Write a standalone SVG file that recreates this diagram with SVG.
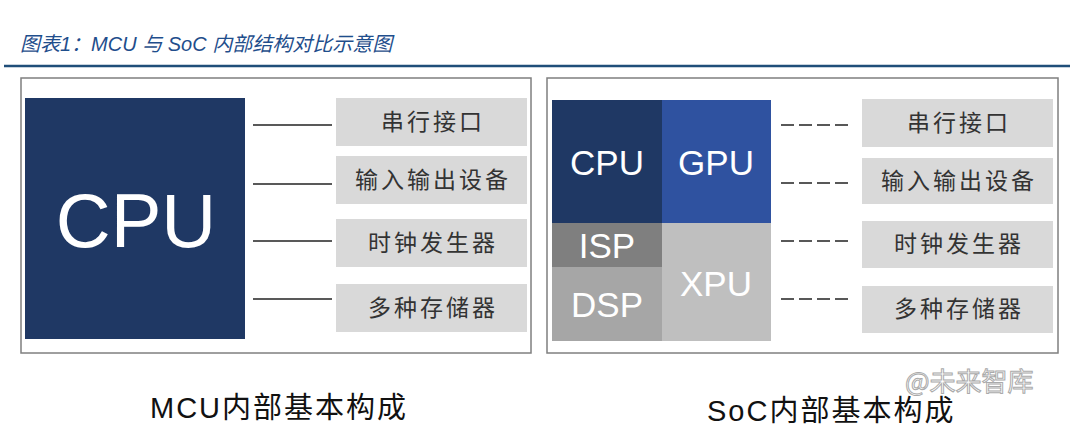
<svg xmlns="http://www.w3.org/2000/svg" width="1070" height="433" viewBox="0 0 1070 433">
<style>
.title{font-family:"Liberation Sans","Noto Sans CJK SC",sans-serif;font-style:italic;font-size:20px;fill:#1f4e8c}
.frame{fill:#fff;stroke:#7f7f7f;stroke-width:1.5}
.box{fill:#d9d9d9}
.boxt{font-family:"Noto Sans CJK SC",sans-serif;font-size:23px;fill:#333;text-anchor:middle;letter-spacing:3px}
.chip{font-family:"Liberation Sans","Noto Sans CJK SC",sans-serif;fill:#fff;text-anchor:middle}
.cap{font-family:"Liberation Sans","Noto Sans CJK SC",sans-serif;font-size:29px;fill:#111;letter-spacing:2px}
.solid{stroke:#222;stroke-width:1.5}
.dash{stroke:#222;stroke-width:1.5;stroke-dasharray:13 5}
</style>
<rect width="1070" height="433" fill="#fff"/>
<text class="title" x="20" y="51">图表1：MCU 与 SoC 内部结构对比示意图</text>
<line x1="4" y1="66" x2="1070" y2="66" stroke="#1f4e79" stroke-width="2.5"/>

<g id="mcu-panel">
<rect class="frame" x="21" y="78" width="510" height="275"/>
</g>
<g id="mcu-cpu">
<rect x="25" y="98" width="220" height="241" fill="#1f3864"/>
<text class="chip" x="136" y="247" font-size="76">CPU</text>
</g>
<g id="mcu-serial"><rect class="box" x="336" y="98" width="191" height="48"/><text class="boxt" x="433" y="130">串行接口</text></g>
<g id="mcu-io"><rect class="box" x="336" y="156" width="191" height="48"/><text class="boxt" x="433" y="188">输入输出设备</text></g>
<g id="mcu-clock"><rect class="box" x="336" y="219" width="191" height="48"/><text class="boxt" x="433" y="251">时钟发生器</text></g>
<g id="mcu-mem"><rect class="box" x="336" y="284" width="191" height="48"/><text class="boxt" x="433" y="316">多种存储器</text></g>

<g id="soc-panel">
<rect class="frame" x="547" y="78" width="511" height="275"/>
</g>
<g id="soc-cpu"><rect x="552" y="100" width="110" height="123" fill="#1f3864"/><text class="chip" x="607" y="175" font-size="35">CPU</text></g>
<g id="soc-gpu"><rect x="662" y="100" width="109" height="123" fill="#2f52a0"/><text class="chip" x="716" y="175" font-size="35">GPU</text></g>
<g id="soc-isp"><rect x="552" y="223" width="110" height="44" fill="#7f7f7f"/><text class="chip" x="607" y="258" font-size="35">ISP</text></g>
<g id="soc-dsp"><rect x="552" y="267" width="110" height="74" fill="#a6a6a6"/><text class="chip" x="607" y="317" font-size="35">DSP</text></g>
<g id="soc-xpu"><rect x="662" y="223" width="109" height="118" fill="#bfbfbf"/><text class="chip" x="716" y="296" font-size="35">XPU</text></g>
<g id="soc-serial"><rect class="box" x="862" y="99" width="191" height="48"/><text class="boxt" x="959" y="131">串行接口</text></g>
<g id="soc-io"><rect class="box" x="862" y="158" width="191" height="46"/><text class="boxt" x="959" y="189">输入输出设备</text></g>
<g id="soc-clock"><rect class="box" x="862" y="221" width="191" height="47"/><text class="boxt" x="959" y="252">时钟发生器</text></g>
<g id="soc-mem"><rect class="box" x="862" y="286" width="191" height="47"/><text class="boxt" x="959" y="317">多种存储器</text></g>

<g id="connectors">
<line class="solid" x1="253" y1="125" x2="332" y2="125"/>
<line class="solid" x1="253" y1="184" x2="332" y2="184"/>
<line class="solid" x1="253" y1="241" x2="332" y2="241"/>
<line class="solid" x1="253" y1="299" x2="332" y2="299"/>
<line class="dash" x1="781" y1="125" x2="849" y2="125"/>
<line class="dash" x1="781" y1="183" x2="849" y2="183"/>
<line class="dash" x1="781" y1="241" x2="849" y2="241"/>
<line class="dash" x1="781" y1="299" x2="849" y2="299"/>
</g>

<text class="cap" x="150" y="418">MCU内部基本构成</text>
<text class="cap" x="707" y="421">SoC内部基本构成</text>
<text x="905" y="391" font-family="Noto Sans CJK SC,sans-serif" font-size="26" fill="#fff" stroke="#aaa" stroke-width="1">@未来智库</text>
</svg>
